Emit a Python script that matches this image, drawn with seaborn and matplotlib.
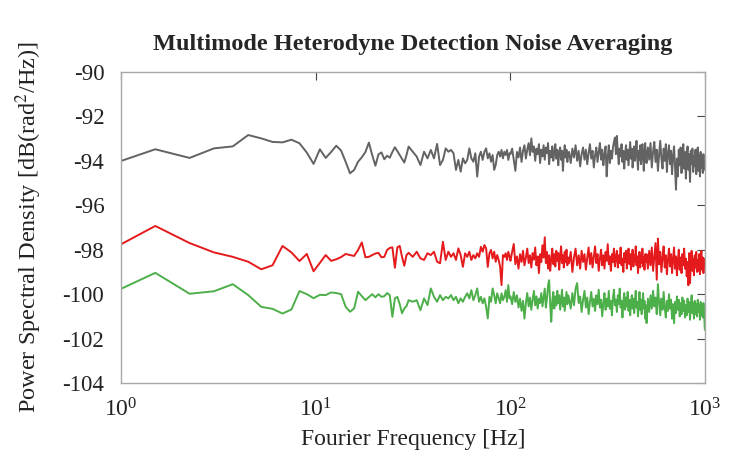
import numpy as np
import pandas as pd
import matplotlib
matplotlib.use("Agg")
import matplotlib.pyplot as plt
import seaborn as sns
from matplotlib.ticker import NullLocator

# ---------------- data ----------------
freq_low = np.arange(1, 41) * 0.75            # 0.75 .. 30 Hz
freq_mid = np.arange(31.5, 99.1, 1.5)         # 31.5 .. 99 Hz
freq_h1 = np.arange(100, 199, 2)              # 100 .. 198 Hz
freq_h2 = np.arange(200, 497, 4)              # 200 .. 496 Hz
freq_h3 = np.arange(500, 997, 8)              # 500 .. 996 Hz

gray_low = [-94.38, -93.48, -93.87, -93.44, -93.35, -92.84, -92.99, -93.15, -93.17, -93.05,
            -93.21, -93.63, -94.14, -93.48, -93.87, -93.60, -93.32, -93.54, -94.05, -94.56,
            -94.41, -94.04, -93.84, -93.60, -93.18, -93.74, -94.22, -93.71, -93.62, -93.93,
            -93.77, -93.86, -93.60, -93.39, -93.56, -93.74, -93.92, -94.08, -93.74, -93.36]
red_low = [-98.34, -96.93, -97.70, -98.12, -98.32, -98.54, -98.88, -98.70, -97.83, -98.12,
           -98.51, -98.19, -98.97, -98.59, -98.24, -98.50, -98.43, -98.33, -98.19, -98.24,
           -98.28, -98.01, -97.67, -98.34, -98.32, -98.24, -98.17, -98.14, -98.34, -98.32,
           -98.01, -97.92, -97.89, -98.81, -97.89, -97.83, -98.32, -98.72, -98.24, -98.14]
green_low = [-100.27, -99.04, -99.98, -99.87, -99.55, -100.04, -100.57, -100.66, -100.87, -100.69,
             -99.86, -100.00, -100.18, -100.03, -100.04, -99.92, -99.95, -100.00, -100.57, -100.79,
             -100.64, -99.89, -100.09, -100.27, -100.13, -100.00, -100.14, -100.00, -100.12, -100.09,
             -99.95, -100.04, -101.02, -100.19, -100.12, -100.45, -100.86, -100.64, -100.54, -100.27]

gray_mid = [-93.59, -93.81, -94.19, -93.59, -93.89, -93.51, -93.89, -93.24, -94.19, -93.96,
            -93.44, -93.59, -93.51, -93.66, -94.41, -93.96, -94.49, -93.89, -94.11, -93.96,
            -93.44, -93.89, -94.04, -93.66, -94.71, -93.81, -93.59, -93.96, -93.59, -93.44,
            -93.89, -93.66, -94.04, -93.74, -94.41, -94.19, -93.74, -93.59, -93.81, -93.51,
            -93.89, -93.59, -93.74, -93.51, -93.96, -93.66]
red_mid = [-98.32, -98.09, -98.39, -98.46, -98.16, -98.24, -98.09, -98.54, -98.61, -97.64,
           -98.46, -98.09, -98.32, -98.16, -98.46, -97.94, -98.24, -98.77, -98.16, -98.32,
           -98.09, -98.46, -98.24, -98.39, -98.16, -98.32, -97.87, -98.09, -97.79, -97.94,
           -98.77, -98.16, -98.01, -98.39, -98.09, -98.54, -98.24, -98.46, -98.77, -99.59,
           -98.24, -98.32, -98.16, -98.46, -98.09, -98.32]
green_mid = [-100.34, -100.27, -100.72, -100.19, -100.49, -99.74, -100.12, -100.34, -100.04, -100.27,
             -100.12, -100.19, -100.04, -100.27, -100.12, -100.41, -100.19, -100.34, -100.12, -99.96,
             -100.19, -99.82, -100.27, -100.04, -99.74, -100.34, -100.12, -100.41, -100.19, -100.57,
             -101.09, -100.12, -100.34, -99.74, -100.04, -100.41, -99.96, -100.19, -100.41, -99.96,
             -100.27, -100.12, -99.82, -100.34, -99.59, -100.19]

gray_h1 = [-93.70, -93.45, -93.95, -94.45, -93.60, -93.85, -93.40, -94.05, -93.55, -93.30,
           -93.90, -93.50, -93.20, -93.75, -92.99, -93.60, -93.35, -94.00, -93.45, -93.70,
           -93.25, -94.10, -93.50, -93.80, -93.30, -93.95, -93.40, -93.65, -93.20, -94.15,
           -93.55, -93.85, -93.35, -94.00, -93.60, -93.25, -93.90, -93.50, -94.20, -93.65,
           -93.40, -93.95, -93.55, -94.45, -93.70, -93.30, -93.85, -93.50, -94.05, -93.65]
gray_h2 = [-93.60, -94.10, -93.45, -93.85, -93.30, -94.00, -93.55, -94.25, -93.70, -93.40,
           -93.95, -93.50, -94.15, -93.65, -93.25, -93.90, -93.55, -94.30, -93.75, -93.40,
           -94.05, -93.60, -93.20, -93.95, -93.50, -94.20, -93.70, -93.35, -94.70, -93.85,
           -93.30, -94.10, -93.55, -93.90, -93.40, -93.15, -92.95, -93.70, -92.88, -93.60,
           -94.15, -93.45, -93.80, -93.25, -94.05, -93.55, -94.35, -93.70, -93.30, -93.95,
           -93.50, -94.20, -93.65, -93.15, -93.90, -93.45, -94.30, -93.75, -93.35, -94.00,
           -93.60, -93.10, -93.85, -94.40, -93.55, -93.95, -93.30, -94.15, -93.65, -93.25,
           -93.90, -94.45, -93.60, -93.20, -93.85]
gray_h3 = [-94.10, -93.40, -93.95, -93.20, -94.30, -93.60, -93.15, -94.05, -93.50, -94.45,
           -93.70, -93.10, -93.90, -94.35, -93.45, -94.00, -93.25, -94.50, -93.65, -93.30,
           -94.15, -93.55, -94.60, -93.80, -93.35, -94.25, -95.30, -93.90, -94.70, -93.50,
           -94.20, -93.40, -94.55, -93.75, -93.25, -94.35, -93.60, -94.80, -93.85, -93.35,
           -94.40, -93.70, -94.95, -93.55, -94.15, -93.45, -94.50, -93.80, -94.25, -93.50,
           -94.60, -93.90, -93.40, -94.45, -93.75, -94.70, -93.60, -94.30, -93.85, -94.55,
           -93.70, -94.40, -94.30]

red_h1 = [-98.50, -98.10, -97.74, -98.65, -98.30, -98.85, -98.20, -98.55, -98.05, -98.70,
          -98.35, -97.95, -98.60, -98.25, -98.80, -98.15, -98.45, -97.90, -98.70, -98.30,
          -99.05, -98.20, -98.55, -97.80, -98.35, -97.44, -98.60, -98.10, -98.85, -98.25,
          -98.95, -98.40, -97.95, -98.65, -98.20, -98.75, -98.05, -98.50, -98.15, -98.90,
          -98.30, -97.85, -98.60, -98.25, -98.80, -98.10, -98.55, -98.00, -98.70, -98.35]
red_h2 = [-98.60, -98.10, -99.00, -98.35, -97.95, -98.70, -98.25, -98.85, -98.05, -98.55,
          -98.20, -98.90, -98.35, -97.90, -98.65, -98.15, -98.80, -98.30, -97.85, -98.60,
          -98.20, -98.95, -98.40, -98.00, -98.70, -98.25, -98.85, -98.10, -98.50, -97.75,
          -98.65, -98.30, -98.95, -98.20, -98.55, -97.95, -98.75, -98.35, -98.05, -98.80,
          -98.25, -98.60, -97.90, -98.70, -98.40, -99.00, -98.15, -98.55, -98.05, -98.85,
          -98.30, -97.95, -98.65, -98.20, -98.90, -98.35, -98.00, -98.75, -98.25, -98.55,
          -97.85, -98.70, -98.30, -99.05, -98.40, -98.10, -98.80, -98.25, -98.60, -97.95,
          -98.75, -98.35, -98.90, -98.20, -98.55]
red_h3 = [-98.20, -98.85, -98.05, -98.70, -97.90, -98.95, -98.30, -97.70, -99.35, -97.50,
          -98.65, -98.10, -99.00, -98.35, -97.85, -98.80, -98.25, -99.10, -98.45, -97.95,
          -98.75, -98.20, -99.05, -98.40, -97.90, -98.85, -98.30, -99.15, -98.50, -98.00,
          -98.90, -98.35, -99.05, -98.20, -98.70, -97.95, -98.85, -98.40, -99.20, -98.55,
          -99.60, -98.15, -99.50, -98.60, -98.05, -98.95, -98.40, -99.15, -98.25, -98.80,
          -98.10, -99.00, -98.45, -98.95, -98.20, -99.10, -98.50, -98.05, -98.90, -98.35,
          -99.05, -98.40, -98.75]

green_h1 = [-100.10, -100.45, -99.90, -100.35, -100.05, -100.60, -100.20, -100.75, -100.30, -101.10,
            -100.40, -99.95, -100.55, -100.15, -100.70, -100.25, -99.85, -100.50, -100.10, -100.65,
            -100.20, -100.40, -99.95, -100.55, -100.15, -99.75, -100.60, -100.20, -99.60, -99.37,
            -100.45, -101.24, -100.30, -99.90, -100.65, -100.10, -100.50, -99.85, -100.40, -100.05,
            -100.70, -100.25, -99.80, -100.55, -100.15, -100.75, -100.30, -99.90, -100.45, -100.05]
green_h2 = [-100.20, -100.65, -99.95, -100.50, -99.75, -99.50, -100.40, -100.10, -100.80, -100.25,
            -99.85, -100.60, -100.15, -100.90, -100.35, -99.90, -100.55, -100.20, -100.75, -100.05,
            -100.45, -99.80, -100.60, -100.25, -101.00, -100.40, -99.95, -100.70, -100.20, -100.55,
            -99.85, -100.65, -100.30, -100.95, -100.15, -99.80, -100.50, -100.25, -100.80, -100.05,
            -100.45, -99.75, -100.60, -100.30, -101.05, -100.35, -99.95, -100.70, -100.15, -100.55,
            -99.90, -100.75, -100.25, -100.95, -100.40, -100.05, -100.65, -100.20, -100.85, -100.30,
            -99.85, -100.60, -100.35, -101.00, -100.45, -99.90, -100.70, -100.25, -100.90, -100.40,
            -99.95, -100.65, -100.30, -101.10, -100.50]
green_h3 = [-101.30, -100.20, -100.80, -100.05, -100.65, -99.85, -100.55, -100.15, -100.90, -99.55,
            -100.40, -100.95, -100.20, -100.70, -99.90, -100.60, -101.05, -100.30, -100.75, -100.00,
            -100.65, -100.25, -101.10, -100.45, -101.30, -100.35, -100.85, -100.10, -100.70, -100.25,
            -101.00, -100.40, -100.90, -100.15, -100.75, -100.30, -101.05, -100.50, -100.95, -100.20,
            -100.80, -100.35, -101.15, -100.55, -100.05, -100.85, -100.40, -101.10, -100.30, -100.90,
            -100.45, -101.00, -100.25, -100.80, -100.50, -101.15, -100.35, -100.95, -100.60, -101.05,
            -100.40, -100.90, -101.60]

series_names = ["gray", "red", "green"]
series_colors = ["#636363", "#e41a1c", "#4daf4a"]
yticks = [-104, -102, -100, -98, -96, -94, -92, -90]
xticks = [1, 10, 100, 1000]
title = "Multimode Heterodyne Detection Noise Averaging"
xlabel = "Fourier Frequency [Hz]"
ylabel = "Power Spectral Density [dB(rad$^2$/Hz)]"

# ---------------- build long table ----------------
freqs = np.concatenate([freq_low, freq_mid, freq_h1, freq_h2, freq_h3])
vals = {
    "gray": gray_low + gray_mid + gray_h1 + gray_h2 + gray_h3,
    "red": red_low + red_mid + red_h1 + red_h2 + red_h3,
    "green": green_low + green_mid + green_h1 + green_h2 + green_h3,
}
frames = []
for name in series_names:
    v = vals[name]
    n = min(len(v), len(freqs))
    frames.append(pd.DataFrame({"freq": freqs[:n], "psd": v[:n], "series": name}))
df = pd.concat(frames, ignore_index=True)

# ---------------- plot ----------------
sns.set_style("white")
plt.rcParams["font.family"] = ["Liberation Serif", "DejaVu Serif"]
plt.rcParams["mathtext.fontset"] = "stix"
plt.rcParams["axes.unicode_minus"] = False

fig, ax = plt.subplots(figsize=(7.47, 4.61), dpi=100)
fig.subplots_adjust(left=0.162, right=0.944, bottom=0.169, top=0.844)

sns.lineplot(data=df, x="freq", y="psd", hue="series", hue_order=series_names,
             palette=dict(zip(series_names, series_colors)), estimator=None,
             sort=False, legend=False, linewidth=1.4, ax=ax)

ax.set_xscale("log")
ax.set_xlim(1, 1000)
ax.set_ylim(-104, -90)
ax.set_xticks(xticks)
ax.set_yticks(yticks)
ax.xaxis.set_minor_locator(NullLocator())
ax.tick_params(axis="both", which="major", direction="in", top=True, right=True,
               length=6, width=0.8, color="#444444", labelcolor="#222222")
ax.tick_params(axis="y", pad=12, labelsize=16.5)
ax.tick_params(axis="x", pad=11, labelsize=17)
for sp in ax.spines.values():
    sp.set_color("#a8a8a8")
    sp.set_linewidth(1.0)

ax.set_title(title, fontsize=17.5, fontweight="bold", pad=16)
ax.set_xlabel(xlabel, fontsize=17, color="#222222", labelpad=5)
ax.set_ylabel(ylabel, fontsize=17.5, color="#222222", labelpad=13)

fig.savefig("out.png", dpi=100)
